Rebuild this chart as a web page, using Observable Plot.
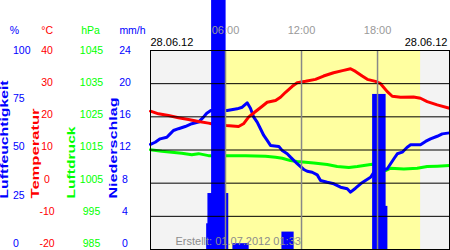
<!DOCTYPE html>
<html>
<head>
<meta charset="utf-8">
<script src="https://cdn.jsdelivr.net/npm/d3@7"></script>
<script src="https://cdn.jsdelivr.net/npm/@observablehq/plot@0.6"></script>
<style>
  html, body { margin: 0; padding: 0; background: white; }
</style>
</head>
<body>
<div id="chart"></div>
<script>
// ---- data (hours of the day 28.06.12) ----
const tempHours = [0.08,0.71,1.5,2.29,3.08,3.87,4.66,4.89,6.06,7.03,7.42,7.82,8.37,8.9,9.29,9.95,10.34,10.74,11.27,11.66,12.32,13.1,13.74,14.53,15.32,15.87,16.26,16.79,17.19,17.84,18.24,18.77,19.16,19.82,20.84,21.39,21.92,22.71,23.68];
const tempValues = [21.7,20.9,20.4,19.7,19.2,18.6,18.1,17.9,17.4,17.1,17.9,19.9,21.6,23.2,24.4,24.9,25.9,27.4,29.2,30.3,30.7,31.3,32.3,33.3,34.0,34.5,33.7,32.3,31.3,30.7,30.0,27.6,26.2,25.9,26.0,25.6,24.6,23.6,22.6];

const humHours = [0.08,0.45,0.84,1.37,1.63,1.89,2.29,2.82,3.34,3.87,4.26,4.52,4.84,6.13,6.92,7.32,7.71,7.97,8.23,8.5,8.76,9.02,9.29,9.55,10.21,10.48,10.87,11.13,11.66,12.18,12.45,12.84,13.24,13.5,14.03,14.55,15.08,15.61,15.87,16.26,16.66,17.05,17.45,17.71,18.77,19.03,19.29,19.56,19.95,20.34,20.61,21.39,21.79,22.18,22.71,23.11,23.68];
const humValues = [52.8,53.9,55.6,56.4,58.1,59.8,60.7,61.8,63.2,64.0,66.5,68.5,69.8,69.8,70.7,71.5,73.7,71.0,66.5,64.0,60.7,57.3,54.8,52.3,51.8,49.7,48.1,46.4,43.1,40.2,39.3,38.8,37.5,34.7,33.8,33.0,31.3,30.5,28.8,30.8,33.0,34.7,36.3,38.8,40.6,43.1,45.6,48.1,48.9,51.4,52.6,52.6,54.3,55.6,56.9,58.1,58.6];

const presHours = [0.08,0.97,1.76,2.55,3.34,3.87,4.66,6.1,7.58,9.16,9.95,10.48,11.13,11.66,12.32,12.97,14.03,14.82,15.74,16.4,17.19,17.58,18.63,19.03,20.08,21.13,21.92,22.71,23.68];
const presValues = [1015.1,1014.6,1014.3,1014.0,1013.6,1013.9,1013.3,1013.3,1013.3,1013.1,1012.8,1012.5,1011.8,1011.5,1011.3,1011.1,1010.6,1010.0,1009.7,1010.0,1010.5,1010.7,1008.8,1009.5,1009.3,1009.5,1010.0,1010.1,1010.3];

const precipStart = [4.56,4.66,4.95,6.0,6.63,10.5,17.66,18.63];
const precipEnd = [4.66,4.95,6.0,6.21,7.82,11.37,18.63,18.77];
const precipValues = [3.1,6.75,32,6.75,0.7,2.1,18.7,5.2];

const dayBounds = [5.0, 21.4];

const humTicks = [0,25,50,75,100];
const tempTicks = [-20,-10,0,10,20,30,40];
const presTicks = [985,995,1005,1015,1025,1035,1045];
const precipTicks = [0,4,8,12,16,20,24];
const timeTicks = [6,12,18];
const timeLabels = ["06:00","12:00","18:00"];
const dateLabel = "28.06.12";
const createdLabel = "Erstellt: 01.07.2012 01:33";

// ---- conversions to the shared (mm/h) vertical scale ----
const fromTemp = t => (t + 20) * 0.4;
const fromHum = h => h * 0.24;
const fromPres = p => (p - 985) * 0.4;
// tick labels sit on a slightly tighter column than the grid (as in the original)
const labelPos = v => 24 - (24 - v) * 0.97;

const temp = tempHours.map((h, i) => ({h, v: fromTemp(tempValues[i])}));
const hum = humHours.map((h, i) => ({h, v: fromHum(humValues[i])}));
const pres = presHours.map((h, i) => ({h, v: fromPres(presValues[i])}));
const precip = precipStart.map((s, i) => ({s, e: precipEnd[i], v: precipValues[i]}));

const BLUE = "#0000ff", RED = "#ff0000", GREEN = "#00ff00";
const FL = 150; // frame left in px
const FB = 249; // frame bottom in px

const svg = Plot.plot({
  width: 450,
  height: 250,
  marginLeft: FL,
  marginRight: 1,
  marginTop: 50,
  marginBottom: 1,
  style: {fontFamily: "'Liberation Sans', Arial, sans-serif", background: "white", overflow: "visible"},
  x: {domain: [0.08, 23.68], axis: null},
  y: {domain: [0, 24], axis: null},
  marks: [
    Plot.frame({fill: "#f3f3f3", stroke: null}),
    Plot.rect([{a: dayBounds[0], b: dayBounds[1]}], {x1: "a", x2: "b", fill: "#ffffa0"}),
    Plot.line(pres, {x: "h", y: "v", stroke: GREEN, strokeWidth: 3}),
    Plot.line(hum, {x: "h", y: "v", stroke: BLUE, strokeWidth: 3}),
    Plot.line(temp, {x: "h", y: "v", stroke: RED, strokeWidth: 3}),
    Plot.rect(precip, {x1: "s", x2: "e", y1: 0, y2: "v", fill: BLUE, insetLeft: -0.6, insetRight: -0.6}),
    Plot.ruleY(precipTicks, {stroke: "black", strokeWidth: 1}),
    Plot.ruleX(timeTicks, {stroke: "#888888", strokeWidth: 1.5}),
    Plot.frame({stroke: "black", strokeWidth: 1}),
    // time labels
    Plot.text(timeTicks, {x: d => d, text: (d, i) => timeLabels[i], frameAnchor: "top", lineAnchor: "middle", dy: -20, fill: "#999999", fontSize: 11}),
    // date labels
    Plot.text([dateLabel], {frameAnchor: "top-left", lineAnchor: "middle", textAnchor: "start", dy: -8, fill: "black", fontSize: 11}),
    Plot.text([dateLabel], {frameAnchor: "top-right", lineAnchor: "middle", textAnchor: "end", dx: -2, dy: -8, fill: "black", fontSize: 11}),
    // created
    Plot.text([createdLabel], {frameAnchor: "bottom-left", lineAnchor: "middle", textAnchor: "start", dx: 25, dy: -8, fill: "#8c8c8c", fontSize: 11}),
    // unit headers
    Plot.text(["%"], {frameAnchor: "top-left", lineAnchor: "middle", textAnchor: "middle", dx: 14 - FL, dy: -20, fill: BLUE, fontSize: 10.5}),
    Plot.text(["°C"], {frameAnchor: "top-left", lineAnchor: "middle", textAnchor: "middle", dx: 46.7 - FL, dy: -20, fill: RED, fontSize: 10.5}),
    Plot.text(["hPa"], {frameAnchor: "top-left", lineAnchor: "middle", textAnchor: "middle", dx: 90 - FL, dy: -20, fill: GREEN, fontSize: 10.5}),
    Plot.text(["mm/h"], {frameAnchor: "top-left", lineAnchor: "middle", textAnchor: "middle", dx: 132 - FL, dy: -20, fill: BLUE, fontSize: 10.5}),
    // tick labels of the four scales
    Plot.text(humTicks, {y: d => labelPos(fromHum(d)), text: d => String(d), frameAnchor: "left", textAnchor: "start", dx: 12.5 - FL, fill: BLUE, fontSize: 10.5}),
    Plot.text(tempTicks, {y: d => labelPos(fromTemp(d)), text: d => String(d), frameAnchor: "left", textAnchor: "middle", dx: 46.5 - FL, fill: RED, fontSize: 10.5}),
    Plot.text(presTicks, {y: d => labelPos(fromPres(d)), text: d => String(d), frameAnchor: "left", textAnchor: "middle", dx: 91 - FL, fill: GREEN, fontSize: 10.5}),
    Plot.text(precipTicks, {y: d => labelPos(d), text: d => String(d), frameAnchor: "left", textAnchor: "middle", dx: 124.5 - FL, fill: BLUE, fontSize: 10.5}),
    // rotated axis titles
    Plot.text(["Luftfeuchtigkeit"], {frameAnchor: "bottom-left", lineAnchor: "middle", textAnchor: "start", rotate: -90, dx: 4 - FL, dy: 198 - FB, fill: BLUE, fontWeight: "bold", fontSize: 10}),
    Plot.text(["Temperatur"], {frameAnchor: "bottom-left", lineAnchor: "middle", textAnchor: "start", rotate: -90, dx: 35 - FL, dy: 198 - FB, fill: RED, fontWeight: "bold", fontSize: 10}),
    Plot.text(["Luftdruck"], {frameAnchor: "bottom-left", lineAnchor: "middle", textAnchor: "start", rotate: -90, dx: 71.5 - FL, dy: 198 - FB, fill: GREEN, fontWeight: "bold", fontSize: 10}),
    Plot.text(["Niederschlag"], {frameAnchor: "bottom-left", lineAnchor: "middle", textAnchor: "start", rotate: -90, dx: 113.5 - FL, dy: 198 - FB, fill: BLUE, fontWeight: "bold", fontSize: 10})
  ]
});

// stretch the rotated titles like the original's wide lettering
const stretch = {"Luftfeuchtigkeit": 118, "Temperatur": 90, "Luftdruck": 72, "Niederschlag": 101};
d3.select(svg).selectAll("text").each(function() {
  const t = this.textContent;
  if (stretch[t]) {
    this.setAttribute("textLength", stretch[t]);
    this.setAttribute("lengthAdjust", "spacingAndGlyphs");
  }
});

document.getElementById("chart").appendChild(svg);
</script>
</body>
</html>
